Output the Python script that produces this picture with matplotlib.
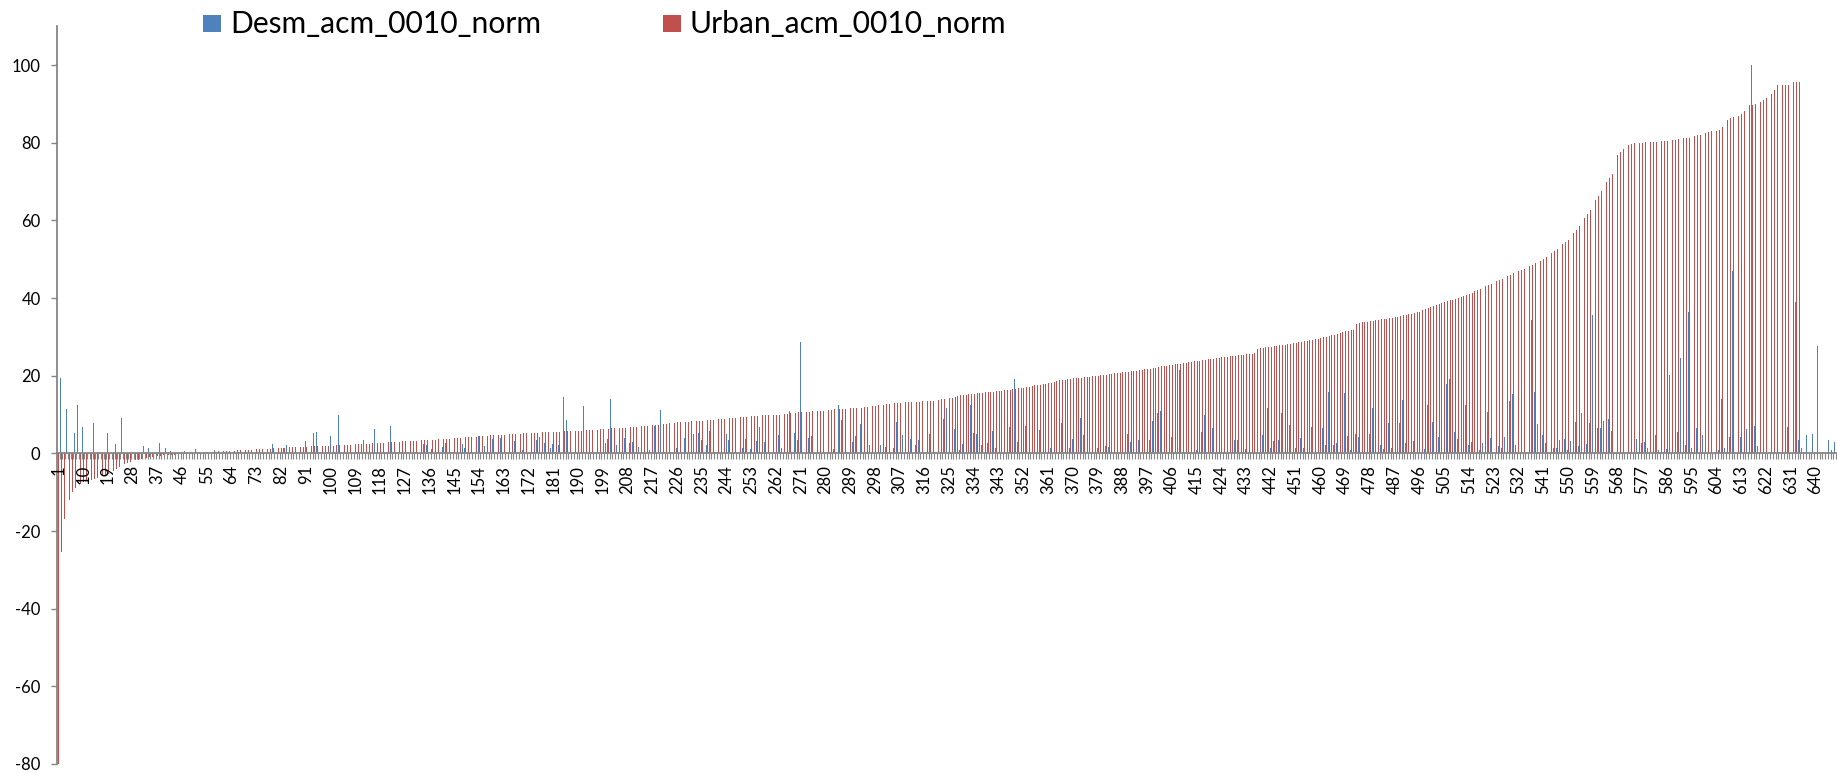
import numpy as np
import matplotlib
matplotlib.use("Agg")
import matplotlib.pyplot as plt
from matplotlib.patches import Rectangle

plt.rcParams['font.family'] = ['Lato', 'DejaVu Sans']

N_CATEGORIES = 647
series_names = ["Desm_acm_0010_norm", "Urban_acm_0010_norm"]
series_colors = ["#4F81BD", "#C0504D"]

# Urban_acm_0010_norm, categories 1..635 (rows of 10)
urban_values = [
    -80, -25.5, -17, -14, -12, -10, -9, -8.5, -8, -7.5,
    -7.2, -7, -6.8, -6.5, -6.3, -6, -5.8, -5.5, -5.2, -5,
    -4.5, -4, -3.6, -3.2, -2.8, -2.5, -2.2, -2, -1.8, -1.6,
    -1.4, -1.2, -1.1, -1, -0.9, -0.8, -0.7, -0.6, -0.5, -0.45,
    -0.4, -0.35, -0.3, -0.25, -0.2, -0.15, -0.1, -0.05, 0, 0.05,
    0.1, 0.15, 0.2, 0.25, 0.3, 0.35, 0.4, 0.45, 0.5, 0.5,
    0.55, 0.6, 0.65, 0.7, 0.7, 0.75, 0.8, 0.85, 0.9, 0.9,
    0.95, 1.0, 1.0, 1.05, 1.1, 1.1, 1.15, 1.2, 1.25, 1.3,
    1.35, 1.4, 1.45, 1.5, 1.6, 1.6, 1.65, 1.65, 1.7, 1.7,
    1.75, 1.75, 1.8, 1.8, 1.85, 1.85, 1.9, 1.9, 1.95, 2.0,
    2.0, 2.05, 2.1, 2.1, 2.15, 2.2, 2.2, 2.25, 2.3, 2.35,
    2.4, 2.45, 2.5, 2.5, 2.55, 2.6, 2.65, 2.7, 2.75, 2.8,
    2.85, 2.9, 2.95, 3.0, 3.05, 3.1, 3.1, 3.15, 3.2, 3.25,
    3.25, 3.3, 3.35, 3.4, 3.4, 3.45, 3.5, 3.55, 3.6, 3.65,
    3.7, 3.7, 3.75, 3.8, 3.85, 3.9, 3.95, 4.0, 4.1, 4.15,
    4.2, 4.25, 4.3, 4.4, 4.45, 4.5, 4.55, 4.6, 4.65, 4.7,
    4.75, 4.8, 4.85, 4.9, 4.95, 5.0, 5.05, 5.1, 5.1, 5.15,
    5.2, 5.25, 5.3, 5.3, 5.35, 5.4, 5.45, 5.5, 5.5, 5.55,
    5.55, 5.6, 5.6, 5.65, 5.65, 5.7, 5.7, 5.75, 5.75, 5.8,
    5.85, 5.9, 5.9, 5.95, 6.0, 6.05, 6.1, 6.15, 6.2, 6.25,
    6.3, 6.4, 6.45, 6.5, 6.55, 6.6, 6.65, 6.7, 6.75, 6.8,
    6.9, 6.95, 7.0, 7.1, 7.15, 7.2, 7.3, 7.35, 7.4, 7.5,
    7.55, 7.6, 7.7, 7.75, 7.85, 8.0, 8.05, 8.1, 8.15, 8.2,
    8.25, 8.3, 8.35, 8.4, 8.45, 8.5, 8.55, 8.6, 8.65, 8.7,
    8.75, 8.8, 8.9, 8.95, 9.0, 9.05, 9.1, 9.2, 9.25, 9.4,
    9.45, 9.5, 9.55, 9.6, 9.65, 9.7, 9.75, 9.8, 9.8, 9.85,
    9.9, 9.95, 10.0, 10.05, 10.1, 10.2, 10.3, 10.4, 10.5, 10.55,
    10.6, 10.65, 10.7, 10.75, 10.8, 10.85, 10.9, 10.95, 11.0, 11.05,
    11.1, 11.2, 11.3, 11.35, 11.4, 11.45, 11.5, 11.55, 11.6, 11.65,
    11.7, 11.75, 11.8, 11.9, 12.0, 12.1, 12.2, 12.3, 12.4, 12.5,
    12.55, 12.6, 12.7, 12.8, 12.9, 12.95, 13.0, 13.05, 13.1, 13.15,
    13.2, 13.25, 13.3, 13.35, 13.4, 13.45, 13.5, 13.55, 13.6, 13.7,
    13.8, 13.9, 14.0, 14.1, 14.2, 14.3, 14.5, 14.7, 14.9, 15.0,
    15.1, 15.2, 15.3, 15.4, 15.45, 15.5, 15.6, 15.7, 15.8, 15.85,
    15.9, 15.95, 16.0, 16.1, 16.2, 16.3, 16.4, 16.5, 16.6, 16.7,
    16.8, 16.9, 17.0, 17.2, 17.35, 17.5, 17.6, 17.7, 17.8, 17.9,
    18.0, 18.2, 18.4, 18.6, 18.8, 18.9, 19.0, 19.1, 19.2, 19.3,
    19.4, 19.45, 19.5, 19.6, 19.7, 19.75, 19.8, 19.9, 20.0, 20.1,
    20.2, 20.3, 20.4, 20.5, 20.6, 20.7, 20.8, 20.9, 20.95, 21.0,
    21.1, 21.2, 21.3, 21.4, 21.5, 21.6, 21.7, 21.8, 21.9, 22.1,
    22.3, 22.4, 22.5, 22.6, 22.7, 22.8, 22.9, 23.0, 23.1, 23.2,
    23.3, 23.45, 23.6, 23.7, 23.8, 23.9, 24.0, 24.1, 24.2, 24.3,
    24.4, 24.5, 24.6, 24.7, 24.8, 24.9, 25.0, 25.05, 25.1, 25.2,
    25.3, 25.4, 25.5, 25.6, 25.7, 25.8, 27.0, 27.1, 27.2, 27.3,
    27.4, 27.5, 27.6, 27.7, 27.8, 27.9, 28.0, 28.1, 28.2, 28.3,
    28.45, 28.6, 28.7, 28.85, 29.0, 29.1, 29.25, 29.4, 29.55, 29.7,
    29.9, 30.0, 30.2, 30.4, 30.6, 30.8, 31.0, 31.2, 31.4, 31.6,
    31.7, 31.8, 33.3, 33.5, 33.7, 33.8, 33.9, 34.0, 34.1, 34.3,
    34.4, 34.5, 34.6, 34.7, 34.8, 34.9, 35.0, 35.2, 35.3, 35.5,
    35.6, 35.8, 35.9, 36.1, 36.3, 36.5, 36.8, 37.1, 37.4, 37.7,
    38.0, 38.3, 38.5, 38.7, 39.0, 39.2, 39.4, 39.6, 39.8, 40.0,
    40.3, 40.5, 40.8, 41.0, 41.3, 41.7, 42.0, 42.4, 42.7, 43.0,
    43.4, 43.7, 44.0, 44.3, 44.6, 45.0, 45.3, 45.6, 46.0, 46.4,
    46.7, 47.0, 47.3, 47.6, 48.0, 48.3, 48.6, 49.0, 49.3, 49.6,
    50.0, 50.5, 51.0, 51.6, 52.2, 52.7, 53.3, 53.9, 54.4, 55.0,
    55.8, 56.7, 57.6, 58.6, 59.6, 60.6, 61.6, 62.6, 64.0, 65.2,
    66.4, 67.6, 68.8, 70.0, 71.0, 72.0, 76.0, 76.8, 77.6, 78.3,
    79.0, 79.5, 79.7, 79.8, 79.9, 80.0, 80.0, 80.1, 80.1, 80.2,
    80.2, 80.3, 80.3, 80.4, 80.4, 80.5, 80.6, 80.7, 80.8, 80.9,
    81.0, 81.1, 81.2, 81.3, 81.5, 81.7, 81.9, 82.1, 82.3, 82.5,
    82.7, 82.9, 83.0, 83.1, 83.2, 84.0, 85.0, 85.8, 86.3, 86.6,
    86.8, 87.0, 87.5, 88.2, 89.0, 89.6, 89.8, 90.0, 90.1, 90.5,
    91.0, 91.4, 91.8, 92.5, 93.5, 94.8, 94.8, 94.8, 94.9, 94.9,
    95.5, 95.6, 95.6, 95.7, 100.0,
]

# Desm_acm_0010_norm: categories with a visible bar and their values
desm_categories = [
    2, 4, 7, 8, 10, 13, 14, 17, 19, 22, 24, 25, 32, 34, 38, 40, 42, 47, 51, 57,
    58, 61, 69, 77, 79, 83, 84, 85, 91, 94, 95, 100, 103, 112, 116, 122, 129,
    134, 135, 137, 141, 142, 148, 149, 154, 156, 159, 162, 167, 170, 175, 176,
    178, 180, 181, 183, 185, 186, 192, 200, 201, 202, 204, 207, 209, 210, 212,
    216, 218, 220, 226, 229, 232, 234, 235, 237, 238, 244, 245, 250, 251, 253,
    255, 256, 258,
    263, 264, 267, 269, 270, 271, 274, 275, 283, 285, 286, 290, 291, 293, 296,
    300, 302, 305, 306, 308, 311, 313, 314, 318, 323, 324, 327, 329, 330, 332,
    333, 334, 335, 336, 337, 339, 341, 342, 344, 347, 349, 350, 353, 358, 362,
    364, 366, 368, 369, 370, 373, 374, 376, 379, 380, 382, 383,
    390, 391, 394, 396, 398, 399, 401, 402, 406, 409, 412, 415, 416, 417, 418,
    420, 421, 424, 428, 429, 430, 433, 436, 439, 441, 442, 443, 445, 446, 449,
    451, 452, 453, 454, 457, 461, 462, 463, 465, 466, 468, 469, 470, 471, 472,
    473, 474, 478, 479, 480, 482, 483, 485, 486, 489, 490, 491, 494, 496, 498,
    499, 500, 501, 503, 504, 506, 507, 509, 510, 512, 513, 514, 515, 516, 518,
    519, 520, 521, 522, 525, 526, 527, 528, 529, 530, 531, 537, 538, 539, 540,
    541, 542, 545, 546, 547, 548, 549, 550, 551, 553, 554, 555, 556, 557, 558,
    559, 560, 561, 562, 563, 564, 565, 566, 572, 575, 577, 578, 579, 580, 582,
    583, 584, 586, 587, 588, 590, 591, 593, 594, 595, 597, 599, 600, 604, 605,
    606, 607, 608, 609, 610, 612, 613, 615, 616, 617, 618, 619, 620, 624, 628,
    630, 632, 633, 634, 635, 637, 639, 640, 641, 643, 644, 645, 646, 647,
]
desm_values = [
    19.3, 11.4, 5.2, 12.4, 6.9, 2.7, 7.7, 13.5, 5.2, 2.4, 9.0, 12.0, 2.0, 1.4, 2.6, 1.3, 0.5, 0.5, 1.1, 1.3,
    0.9, 0.9, 5.8, 9.0, 2.3, 1.5, 2.1, 3.1, 3.2, 5.2, 5.4, 4.4, 10.0, 3.4, 6.3, 7.0, 1.9,
    2.3, 2.1, 1.1, 1.6, 2.7, 2.4, 1.5, 4.5, 1.9, 3.7, 3.9, 3.2, 0.9, 3.4, 4.3,
    2.6, 1.3, 2.4, 2.1, 14.4, 8.6, 12.2, 2.6, 3.6, 13.9, 2.1, 3.9, 2.6, 3.0, 1.7,
    0.9, 7.0, 11.2, 1.5, 3.9, 4.9, 5.2, 3.4, 2.1, 5.8, 5.0, 3.4, 1.5, 3.7, 1.0,
    3.2, 6.9, 2.8,
    4.7, 1.3, 11.0, 5.2, 3.4, 28.8, 3.9, 4.5, 1.0, 12.4, 8.6, 3.0, 4.5, 7.6, 2.1,
    2.1, 1.7, 1.5, 8.2, 4.7, 3.6, 2.1, 3.4, 5.0, 8.9, 11.7, 6.2, 0.9, 2.4, 7.0,
    12.4, 5.2, 5.0, 3.3, 2.1, 2.7, 5.8, 1.3, 3.4, 6.9, 19.1, 2.8, 7.0, 6.0, 1.3,
    28.8, 7.9, 5.2, 1.5, 3.6, 9.0, 4.7, 3.4, 1.5, 15.5, 1.9, 1.7,
    5.0, 2.8, 3.4, 1.0, 3.4, 8.3, 10.3, 10.9, 4.1, 21.5, 16.6, 0.9, 1.0, 5.5, 9.8,
    1.7, 6.5, 4.6, 4.5, 3.4, 3.4, 1.0, 1.5, 4.6, 11.6, 1.4, 3.1, 3.4, 10.3, 7.2,
    1.4, 1.9, 4.0, 1.5, 6.7, 6.4, 2.2, 15.9, 2.2, 2.6, 4.7, 15.5, 4.5, 0.9, 2.6,
    5.0, 4.3, 4.9, 11.8, 17.9, 2.2, 1.2, 7.7, 1.5, 7.7, 13.7, 2.6, 3.3, 6.4, 1.0,
    12.4, 1.5, 8.2, 4.1, 1.3, 17.9, 19.1, 5.6, 3.7, 1.2, 12.4, 2.1, 3.0, 2.4, 0.9,
    2.6, 2.6, 10.7, 4.0, 1.9, 1.4, 4.1, 1.0, 13.5, 15.3, 2.1, 34.3, 15.8, 7.5, 1.6,
    4.6, 2.6, 1.3, 1.5, 3.4, 11.6, 3.7, 0.9, 3.3, 8.0, 1.9, 10.3, 14.6, 2.4, 7.7,
    35.5, 12.2, 6.6, 6.6, 8.3, 0.9, 8.8, 5.8, 5.8, 3.8, 2.7, 2.9, 1.4, 0.9, 4.7,
    0.9, 3.0, 1.2, 20.3, 2.7, 5.5, 24.6, 2.1, 36.5, 1.5, 6.4, 4.7, 6.9, 10.1, 0.9,
    14.0, 1.3, 5.2, 4.1, 47.0, 1.6, 4.1, 6.3, 8.3, 100.0, 7.1, 1.9, 1.6, 24.3, 1.9,
    6.7, 1.4, 39.0, 3.4, 1.4, 4.7, 5.0, 1.9, 27.6, 0.4, 0.3, 3.4, 0.9, 2.9,
]

x_tick_labels = list(range(1, 641, 9))
y_ticks = [-80, -60, -40, -20, 0, 20, 40, 60, 80, 100]

# ---- build series ----
cats = np.arange(1, N_CATEGORIES + 1)
urban = np.array(urban_values, dtype=float)
urban_cats = cats[:len(urban)]
desm = np.zeros(N_CATEGORIES)
desm[np.array(desm_categories) - 1] = desm_values

W, H = 1837, 773
fig = plt.figure(figsize=(W / 100, H / 100), dpi=100)
ax = fig.add_axes([57 / W, 1 - 764 / H, 1779 / W, (764 - 26.2) / H])

bw = 0.3
ax.bar(cats - 0.15, desm, width=bw, color=series_colors[0], linewidth=0,
       label=series_names[0])
ax.bar(urban_cats + 0.15, urban, width=bw, color=series_colors[1], linewidth=0,
       label=series_names[1])

ax.set_xlim(0.5, 0.5 + 1779 / 2.7505)
ax.set_ylim(-80, 110)

grey = "#868686"
ax.spines['top'].set_visible(False)
ax.spines['right'].set_visible(False)
ax.spines['left'].set_color(grey)
ax.spines['left'].set_linewidth(1.3)
ax.spines['bottom'].set_position(('data', 0))
ax.spines['bottom'].set_color(grey)
ax.spines['bottom'].set_linewidth(1.3)

ax.set_yticks(y_ticks)
ax.set_yticklabels([str(v) for v in y_ticks])
ax.tick_params(axis='y', direction='out', length=4.3, width=1.0, color=grey,
               labelsize=12, pad=7.5, labelcolor='black')

ax.set_xticks(x_tick_labels)
ax.set_xticklabels([str(v) for v in x_tick_labels], rotation=90)
ax.set_xticks(np.arange(0.5, N_CATEGORIES + 1, 1.0), minor=True)
ax.tick_params(axis='x', which='major', length=0, labelsize=12, pad=8.5,
               labelcolor='black')
ax.tick_params(axis='x', which='minor', direction='out', length=4.5,
               width=0.8, color=grey)
ax.set_axisbelow(False)

# ---- legend (top) ----
legend_items = [(203, series_colors[0], series_names[0]),
                (663, series_colors[1], series_names[1])]
for x0, col, name in legend_items:
    fig.add_artist(Rectangle((x0 / W, 1 - 32 / H), 18 / W, 17 / H,
                             transform=fig.transFigure, color=col, lw=0))
    fig.text((x0 + 27) / W, 1 - 24 / H, name, fontsize=21.6, va='center',
             ha='left', color='black')

fig.savefig("out.png", dpi=100)
